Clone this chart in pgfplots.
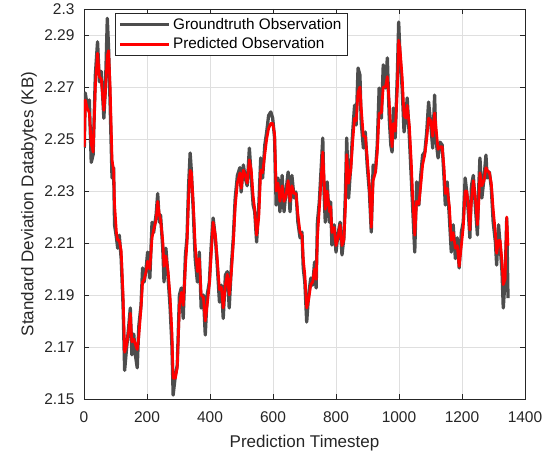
\documentclass[border=0pt]{standalone}
\usepackage{fontspec}
\setmainfont{Liberation Sans}
\usepackage{pgfplots}
\pgfplotsset{compat=1.18}
\usepackage{pgfplotstable}
\definecolor{gt}{RGB}{77,77,77}
\definecolor{axc}{RGB}{38,38,38}
\definecolor{gridc}{RGB}{223,223,223}

\pgfplotstableread{
t g r
1 2.2465 2.2470
4 2.2677 2.2650
10 2.2630 2.2620
17 2.2650 2.2600
23 2.2410 2.2480
29 2.2440 2.2450
36 2.2746 2.2700
43 2.2874 2.2830
49 2.2720 2.2740
55 2.2760 2.2730
63 2.2580 2.2610
68 2.2696 2.2680
74 2.2964 2.2820
78 2.2850 2.2840
83 2.2630 2.2700
89 2.2350 2.2420
94 2.2390 2.2380
97 2.2170 2.2250
103 2.2120 2.2140
107 2.2080 2.2110
112 2.2130 2.2110
118 2.2040 2.2070
124 2.1860 2.1900
129 2.1610 2.1680
134 2.1680 2.1700
142 2.1780 2.1760
147 2.1850 2.1830
152 2.1670 2.1720
158 2.1750 2.1730
163 2.1670 2.1710
169 2.1620 2.1690
174 2.1780 2.1740
181 2.1860 2.1850
186 2.2004 2.1950
191 2.1950 2.1960
197 2.2000 2.1990
202 2.2065 2.2030
209 2.1965 2.2000
216 2.2180 2.2120
221 2.2140 2.2150
229 2.2210 2.2190
234 2.2290 2.2260
239 2.2180 2.2210
243 2.2208 2.2190
250 2.2080 2.2110
254 2.1950 2.2010
260 2.2080 2.2050
267 2.1965 2.1990
273 2.1860 2.1900
279 2.1710 2.1760
283 2.1515 2.1580
290 2.1590 2.1580
296 2.1630 2.1620
303 2.1900 2.1860
309 2.1927 2.1910
315 2.1810 2.1860
322 2.2054 2.2010
327 2.2120 2.2100
332 2.2320 2.2270
337 2.2446 2.2380
341 2.2373 2.2370
347 2.2220 2.2250
353 2.2040 2.2090
360 2.1950 2.1990
366 2.2065 2.2040
372 2.1850 2.1900
379 2.1900 2.1890
385 2.1746 2.1800
391 2.1900 2.1860
398 2.1950 2.1940
404 2.2092 2.2060
410 2.2196 2.2180
417 2.2120 2.2130
423 2.2015 2.2040
430 2.1873 2.1920
436 2.1938 2.1930
442 2.1810 2.1850
449 2.1977 2.1940
455 2.1990 2.1980
461 2.1850 2.1900
468 2.2015 2.1990
474 2.2120 2.2100
480 2.2273 2.2240
487 2.2360 2.2330
495 2.2390 2.2370
499 2.2296 2.2310
506 2.2400 2.2380
512 2.2350 2.2360
518 2.2320 2.2330
525 2.2465 2.2420
531 2.2350 2.2380
537 2.2246 2.2280
542 2.2220 2.2230
548 2.2104 2.2130
555 2.2246 2.2200
561 2.2427 2.2380
567 2.2350 2.2370
574 2.2477 2.2440
580 2.2527 2.2500
586 2.2590 2.2540
593 2.2604 2.2560
599 2.2580 2.2560
605 2.2504 2.2520
610 2.2246 2.2300
616 2.2350 2.2330
622 2.2220 2.2260
629 2.2360 2.2320
635 2.2220 2.2260
641 2.2296 2.2280
648 2.2373 2.2340
654 2.2220 2.2260
660 2.2360 2.2320
667 2.2273 2.2290
673 2.2296 2.2290
679 2.2180 2.2210
686 2.2120 2.2140
692 2.2142 2.2130
696 2.2004 2.2040
701 2.1950 2.1980
707 2.1796 2.1850
713 2.1900 2.1880
720 2.1965 2.1940
726 2.1938 2.1950
732 2.2027 2.2000
737 2.1927 2.1960
741 2.2180 2.2120
747 2.2258 2.2230
753 2.2390 2.2350
758 2.2504 2.2450
762 2.2296 2.2350
766 2.2180 2.2230
772 2.2335 2.2300
779 2.2180 2.2220
783 2.2258 2.2240
787 2.2092 2.2140
794 2.2170 2.2160
800 2.2065 2.2090
806 2.2131 2.2120
813 2.2180 2.2170
819 2.2054 2.2090
825 2.2120 2.2110
830 2.2296 2.2240
834 2.2504 2.2440
840 2.2273 2.2330
847 2.2400 2.2380
853 2.2527 2.2490
859 2.2630 2.2580
864 2.2554 2.2570
870 2.2773 2.2680
876 2.2746 2.2700
880 2.2565 2.2620
887 2.2465 2.2510
893 2.2527 2.2510
899 2.2400 2.2430
906 2.2296 2.2320
912 2.2142 2.2160
918 2.2400 2.2340
925 2.2373 2.2370
931 2.2477 2.2450
937 2.2696 2.2600
944 2.2580 2.2600
950 2.2785 2.2700
957 2.2696 2.2700
963 2.2812 2.2740
969 2.2580 2.2640
974 2.2477 2.2530
978 2.2450 2.2470
982 2.2619 2.2560
988 2.2504 2.2530
995 2.2758 2.2700
999 2.2950 2.2880
1003 2.2823 2.2850
1010 2.2696 2.2740
1016 2.2527 2.2590
1022 2.2590 2.2580
1026 2.2658 2.2630
1033 2.2504 2.2550
1039 2.2350 2.2410
1043 2.2246 2.2290
1050 2.2065 2.2130
1056 2.2335 2.2260
1063 2.2246 2.2250
1069 2.2360 2.2320
1075 2.2438 2.2400
1082 2.2450 2.2440
1088 2.2527 2.2500
1094 2.2642 2.2580
1101 2.2554 2.2570
1107 2.2465 2.2510
1113 2.2669 2.2600
1117 2.2504 2.2550
1124 2.2427 2.2460
1130 2.2488 2.2470
1137 2.2477 2.2470
1143 2.2350 2.2390
1147 2.2246 2.2290
1153 2.2335 2.2310
1160 2.2196 2.2240
1166 2.2065 2.2110
1172 2.2170 2.2140
1179 2.2040 2.2080
1185 2.2120 2.2090
1191 2.2004 2.2010
1198 2.2142 2.2090
1204 2.2180 2.2160
1210 2.2350 2.2300
1215 2.2296 2.2300
1220 2.2220 2.2250
1225 2.2120 2.2150
1230 2.2320 2.2260
1236 2.2360 2.2340
1242 2.2246 2.2280
1249 2.2131 2.2170
1253 2.2312 2.2250
1257 2.2427 2.2370
1263 2.2273 2.2320
1270 2.2350 2.2340
1276 2.2438 2.2390
1280 2.2350 2.2380
1287 2.2373 2.2370
1293 2.2312 2.2330
1299 2.2180 2.2230
1306 2.2104 2.2140
1310 2.2015 2.2060
1316 2.2170 2.2110
1321 2.2092 2.2110
1327 2.1990 2.2030
1331 2.1850 2.1940
1337 2.1965 2.1960
1342 2.2196 2.2200
1346 2.1888 2.2090
}\data

\begin{document}
\begin{tikzpicture}
\useasboundingbox (-84bp,-57bp) rectangle (468bp,399bp);
\begin{axis}[
  scale only axis, width=441bp, height=390bp,
  xmin=0, xmax=1400, ymin=2.15, ymax=2.3,
  xtick={0,200,400,600,800,1000,1200,1400},
  xticklabels={0,200,400,600,800,1000,1200,1400},
  ytick={2.15,2.17,2.19,2.21,2.23,2.25,2.27,2.29,2.3},
  yticklabels={2.15,2.17,2.19,2.21,2.23,2.25,2.27,2.29,2.3},
  tick align=inside, tick pos=both,
  major tick length=5bp,
  every tick/.style={axc, line width=0.6bp},
  axis line style={axc, line width=0.8bp},
  grid=major,
  major grid style={gridc, line width=0.7bp},
  ticklabel style={font=\fontsize{15.5bp}{18bp}\selectfont, text=axc},
  xticklabel style={anchor=base, yshift=-23.5bp},
  yticklabel style={anchor=east, xshift=-6bp},
  xlabel={Prediction Timestep},
  ylabel={Standard Deviation Databytes (KB)},
  label style={font=\fontsize{17bp}{20bp}\selectfont, text=axc},
  xlabel style={at={(axis description cs:0.5,-0.1256)}, anchor=base},
  ylabel style={at={(axis description cs:-0.1247,0.5)}, anchor=center, rotate=0},
  legend cell align=left,
  legend image code/.code={\draw[#1] (0bp,0bp) -- (49bp,0bp);},
  legend style={at={(0.0703,0.9897)}, anchor=north west, draw=axc, line width=0.6bp,
    fill=white, font=\fontsize{15.3bp}{17bp}\selectfont, text=black,
    inner xsep=3bp, inner ysep=2.5bp, row sep=2bp,
    nodes={inner sep=2.5bp}},
]
\addplot[gt, line width=3.3bp, line join=round] table[x=t, y=g] {\data};
\addlegendentry{Groundtruth Observation}
\addplot[red, line width=2.7bp, line join=round] table[x=t, y=r] {\data};
\addlegendentry{Predicted Observation}
\end{axis}
\end{tikzpicture}
\end{document}
